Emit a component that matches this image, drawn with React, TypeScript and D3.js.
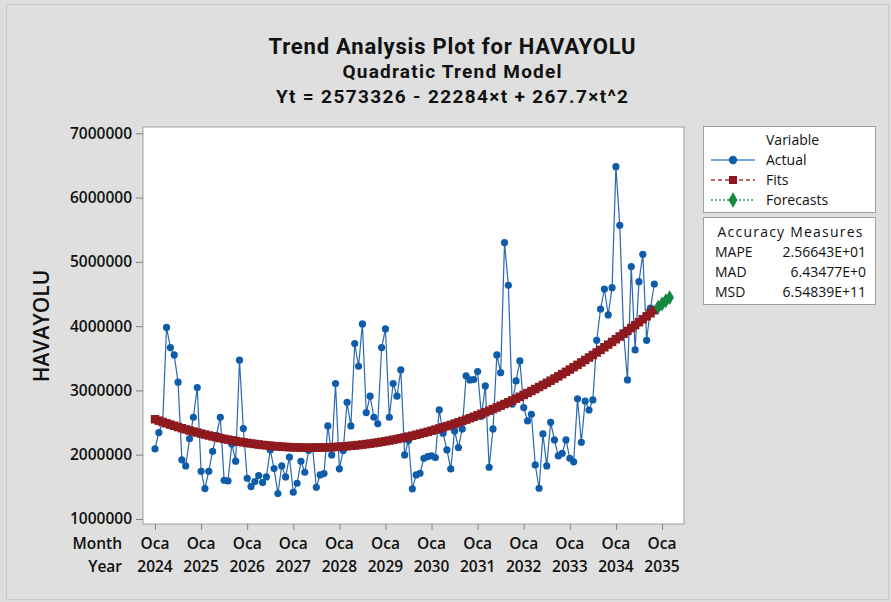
import React, { useRef, useEffect } from 'react';
import * as d3 from 'd3';

// monthly values, Oca 2024 .. Kas 2034 (t = 1..131)
const actual = [
  2090000, 2345000, 2500000, 3980000, 3667000, 3553000, 3128000, 1920000, 1826000, 2250000,
  2583000, 3045000, 1743000, 1474000, 1743000, 2054000, 2300000, 2583000, 1603000, 1593000,
  2168000, 1899000, 3470000, 2407000, 1634000, 1504000, 1582000, 1676000, 1567000, 1655000,
  2075000, 1784000, 1396000, 1826000, 1655000, 1961000, 1416000, 1556000, 1898000, 1727000,
  2064000, 2120000, 1494000, 1686000, 1707000, 2448000, 1997000, 3107000, 1780000, 2065000,
  2816000, 2448000, 3729000, 3376000, 4035000, 2656000, 2910000, 2583000, 2480000, 3667000,
  3957000, 2583000, 3107000, 2910000, 3319000, 1997000, 2220000, 1469000, 1686000, 1712000,
  1945000, 1971000, 1981000, 1955000, 2697000, 2334000, 2075000, 1779000, 2370000, 2111000,
  2401000, 3225000, 3163000, 3170000, 3293000, 2600000, 3070000, 1805000, 2401000, 3552000,
  3277000, 5300000, 4636000, 2785000, 3148000, 3459000, 2733000, 2526000, 2629000, 1841000,
  1478000, 2323000, 1826000, 2505000, 2230000, 1981000, 2020000, 2230000, 1945000, 1890000,
  2870000, 2194000, 2836000, 2696000, 2852000, 3780000, 4267000, 4578000, 4174000, 4599000,
  6481000, 5568000, 3900000, 3163000, 4926000, 3630000, 4692000, 5117000, 3780000, 4280000,
  4656000,
];

// model from the title: Yt = b0 + b1*t + b2*t^2
const coef = [2573326, -22284, 267.7];
const forecastPeriods = 4;

const yearLabels = ['2024', '2025', '2026', '2027', '2028', '2029', '2030', '2031', '2032', '2033', '2034', '2035'];
const monthLabel = 'Oca';
const yTicks = [1000000, 2000000, 3000000, 4000000, 5000000, 6000000, 7000000];

const accuracy = [
  { name: 'MAPE', value: '2.56643E+01' },
  { name: 'MAD', value: '6.43477E+0' },
  { name: 'MSD', value: '6.54839E+11' },
];

const FONT = "'Open Sans', 'Noto Sans', sans-serif";
const TITLE_FONT = "Roboto, 'Open Sans', sans-serif";

interface Pt { t: number; v: number; }

const TrendChart: React.FC = () => {
  const svgRef = useRef<SVGSVGElement>(null);

  useEffect(() => {
    if (!svgRef.current) return;
    const svg = d3.select(svgRef.current);
    svg.selectAll('*').remove();

    const width = 891;
    const height = 602;
    const plot = { left: 143, right: 684, top: 127, bottom: 524 };

    const trend = (t: number) => coef[0] + coef[1] * t + coef[2] * t * t;
    const actualPts: Pt[] = actual.map((v, i) => ({ t: i + 1, v }));
    const fitPts: Pt[] = actual.map((_, i) => ({ t: i + 1, v: trend(i + 1) }));
    const fcPts: Pt[] = d3.range(forecastPeriods).map(i => {
      const t = actual.length + i + 1;
      return { t, v: trend(t) };
    });

    // scales
    const x = d3.scaleLinear().domain([1, 133]).range([155, 662]);
    const y = d3.scaleLinear().domain([1000000, 7000000]).range([519, 133.3]);

    // background
    svg.append('rect').attr('width', width).attr('height', height).attr('fill', '#dcdddc');
    svg.append('rect')
      .attr('x', 6.5).attr('y', 4.5).attr('width', width - 9).attr('height', height - 7)
      .attr('fill', '#dedfde').attr('stroke', '#c9c9c9');

    // titles (widths fitted to the original)
    const titles = [
      { text: 'Trend Analysis Plot for HAVAYOLU', y: 54, size: 22, len: 367 },
      { text: 'Quadratic Trend Model', y: 78, size: 19, len: 219 },
      { text: 'Yt = 2573326 - 22284×t + 267.7×t^2', y: 103, size: 19, len: 352 },
    ];
    svg.selectAll('.title')
      .data(titles)
      .enter().append('text')
      .attr('class', 'title')
      .attr('x', 452)
      .attr('y', d => d.y)
      .attr('text-anchor', 'middle')
      .attr('textLength', d => d.len)
      .attr('lengthAdjust', 'spacing')
      .style('font-family', TITLE_FONT)
      .style('font-weight', '700')
      .style('font-size', d => `${d.size}px`)
      .style('fill', '#111')
      .text(d => d.text);

    // plot area
    svg.append('rect')
      .attr('x', plot.left).attr('y', plot.top)
      .attr('width', plot.right - plot.left).attr('height', plot.bottom - plot.top)
      .attr('fill', '#ffffff').attr('stroke', '#a0a0a0');

    // Y axis
    const yAxis = svg.append('g')
      .attr('transform', `translate(${plot.left},0)`)
      .call(d3.axisLeft(y).tickValues(yTicks).tickSize(7).tickPadding(4).tickFormat(d3.format('d')));
    yAxis.select('.domain').remove();
    yAxis.selectAll('line').attr('stroke', '#808080');
    yAxis.selectAll('text')
      .style('font-family', FONT)
      .style('font-weight', '600')
      .style('font-size', '15.5px')
      .style('fill', '#111');

    svg.append('text')
      .attr('transform', 'translate(49,326) rotate(-90)')
      .attr('text-anchor', 'middle')
      .style('font-family', FONT)
      .style('font-weight', '600')
      .style('font-size', '21px')
      .style('fill', '#111')
      .text('HAVAYOLU');

    // X axis
    const yearTicks = yearLabels.map((_, i) => 1 + i * 12);
    const xAxis = svg.append('g')
      .attr('transform', `translate(0,${plot.bottom})`)
      .call(d3.axisBottom(x).tickValues(yearTicks).tickSize(6).tickFormat(() => ''));
    xAxis.select('.domain').remove();
    xAxis.selectAll('line').attr('stroke', '#808080');

    const xLab = svg.append('g')
      .style('font-family', FONT)
      .style('font-weight', '600')
      .style('font-size', '15.5px')
      .style('fill', '#111');
    xLab.selectAll('.m')
      .data(yearTicks)
      .enter().append('text')
      .attr('x', d => x(d)).attr('y', 549)
      .attr('text-anchor', 'middle')
      .text(monthLabel);
    xLab.selectAll('.yr')
      .data(yearTicks)
      .enter().append('text')
      .attr('x', d => x(d)).attr('y', 572)
      .attr('text-anchor', 'middle')
      .text((_, i) => yearLabels[i]);
    xLab.append('text').attr('x', 122).attr('y', 549).attr('text-anchor', 'end').text('Month');
    xLab.append('text').attr('x', 122).attr('y', 572).attr('text-anchor', 'end').text('Year');

    // Actual series
    const line = d3.line<Pt>().x(d => x(d.t)).y(d => y(d.v));
    svg.append('path')
      .datum(actualPts)
      .attr('fill', 'none')
      .attr('stroke', '#2a68b0')
      .attr('stroke-width', 1.2)
      .attr('d', line);
    svg.selectAll('.act')
      .data(actualPts)
      .enter().append('circle')
      .attr('cx', d => x(d.t)).attr('cy', d => y(d.v))
      .attr('r', 3.6)
      .attr('fill', '#0f5daa');

    // Fits
    svg.append('path')
      .datum(fitPts)
      .attr('fill', 'none')
      .attr('stroke', '#8e1a1f')
      .attr('stroke-dasharray', '4,3')
      .attr('d', line);
    svg.selectAll('.fit')
      .data(fitPts)
      .enter().append('rect')
      .attr('x', d => x(d.t) - 4.25).attr('y', d => y(d.v) - 4.25)
      .attr('width', 8.5).attr('height', 8.5)
      .attr('fill', '#8e1a1f');

    // Forecasts
    const diamond = d3.symbol().type(d3.symbolDiamond).size(64);
    svg.selectAll('.fc')
      .data(fcPts)
      .enter().append('path')
      .attr('transform', d => `translate(${x(d.t)},${y(d.v)})`)
      .attr('d', diamond)
      .attr('fill', '#14883e');

    // Legend
    const leg = svg.append('g')
      .style('font-family', FONT)
      .style('font-size', '14px')
      .style('fill', '#111');
    leg.append('rect')
      .attr('x', 703.5).attr('y', 126.5).attr('width', 172).attr('height', 86)
      .attr('fill', '#fff').attr('stroke', '#a0a0a0');
    leg.append('text').attr('x', 766).attr('y', 145).text('Variable');

    const items = [
      { label: 'Actual', color: '#4a86c8', mark: '#0f5daa', dash: '', shape: 'circle' },
      { label: 'Fits', color: '#b0343a', mark: '#8e1a1f', dash: '4,3', shape: 'square' },
      { label: 'Forecasts', color: '#2f9a52', mark: '#14883e', dash: '2,2', shape: 'diamond' },
    ];
    items.forEach((it, i) => {
      const base = 165 + i * 20;
      const cy = base - 5;
      leg.append('line')
        .attr('x1', 711).attr('x2', 755).attr('y1', cy).attr('y2', cy)
        .attr('stroke', it.color).attr('stroke-width', 1.4)
        .attr('stroke-dasharray', it.dash || null);
      if (it.shape === 'circle') {
        leg.append('circle').attr('cx', 733).attr('cy', cy).attr('r', 4.2).attr('fill', it.mark);
      } else if (it.shape === 'square') {
        leg.append('rect').attr('x', 729).attr('y', cy - 4).attr('width', 8).attr('height', 8).attr('fill', it.mark);
      } else {
        leg.append('path').attr('transform', `translate(733,${cy})`)
          .attr('d', d3.symbol().type(d3.symbolDiamond).size(70)).attr('fill', it.mark);
      }
      leg.append('text').attr('x', 766).attr('y', base).text(it.label);
    });

    leg.append('rect')
      .attr('x', 703.5).attr('y', 217.5).attr('width', 172).attr('height', 87)
      .attr('fill', '#fff').attr('stroke', '#a0a0a0');
    leg.append('text').attr('x', 790).attr('y', 237).attr('text-anchor', 'middle')
      .attr('textLength', 145).attr('lengthAdjust', 'spacing').text('Accuracy Measures');
    accuracy.forEach((a, i) => {
      leg.append('text').attr('x', 715).attr('y', 257 + i * 20).text(a.name);
      leg.append('text').attr('x', 866).attr('y', 257 + i * 20).attr('text-anchor', 'end').text(a.value);
    });
  }, []);

  return (
    <svg
      ref={svgRef}
      width={891}
      height={602}
      style={{ position: 'absolute', left: 0, top: 0, display: 'block' }}
    ></svg>
  );
};

export default function App() {
  return <TrendChart />;
}
